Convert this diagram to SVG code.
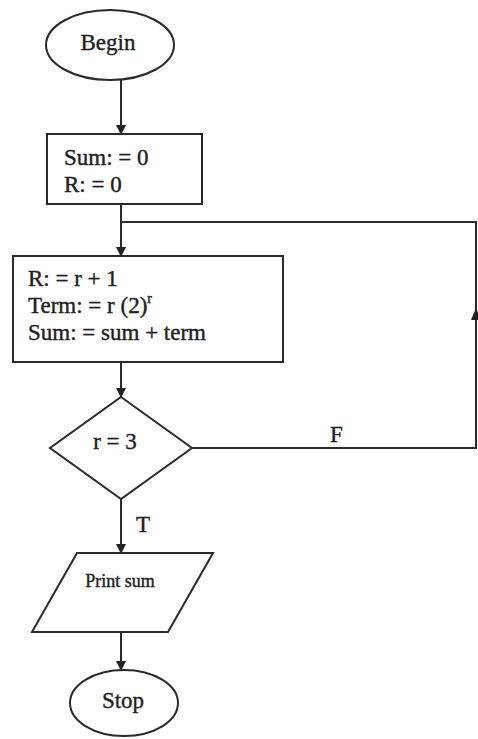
<svg xmlns="http://www.w3.org/2000/svg" width="478" height="739" viewBox="0 0 478 739">
<defs>
<marker id="ah" markerWidth="10" markerHeight="10" refX="9" refY="5" orient="auto" markerUnits="userSpaceOnUse">
<path d="M0,0 L10,5 L0,10 z" fill="#222"/>
</marker>
<style>
.s{fill:#fff;stroke:#2a2a2a;stroke-width:2}
.c{fill:none;stroke:#2a2a2a;stroke-width:2}
text{font-family:"Liberation Serif","Times New Roman",serif;fill:#1e1e1e;stroke:#1e1e1e;stroke-width:0.4}
.t{font-size:23px}
.m{text-anchor:middle}
</style>
</defs>
<rect width="478" height="739" fill="#fff"/>
<g id="connectors">
<line class="c" x1="121" y1="80" x2="121" y2="134" marker-end="url(#ah)"/>
<line class="c" x1="121" y1="204" x2="121" y2="256" marker-end="url(#ah)"/>
<polyline class="c" points="121,222 476,222 476,448 192,448"/>
<path d="M476,308 L471,320 L481,320 z" fill="#222"/>
<line class="c" x1="121" y1="362" x2="121" y2="397" marker-end="url(#ah)"/>
<line class="c" x1="121" y1="499" x2="121" y2="553" marker-end="url(#ah)"/>
<line class="c" x1="121" y1="632" x2="121" y2="670" marker-end="url(#ah)"/>
<text class="t" x="330" y="442">F</text>
<text class="t" x="136" y="532">T</text>
</g>
<g id="begin">
<ellipse class="s" cx="110" cy="45" rx="64" ry="35"/>
<text class="t m" x="108" y="50">Begin</text>
</g>
<g id="init">
<rect class="s" x="47" y="134" width="155" height="70"/>
<text class="t" x="64" y="165">Sum: = 0</text>
<text class="t" x="64" y="192">R: = 0</text>
</g>
<g id="process">
<rect class="s" x="13" y="256" width="270" height="106"/>
<text class="t" x="28" y="286">R: = r + 1</text>
<text class="t" x="28" y="313">Term: = r (2)<tspan font-size="14" dy="-10">r</tspan></text>
<text class="t" x="28" y="340">Sum: = sum + term</text>
</g>
<g id="decision">
<polygon class="s" points="121,397 192,448 121,499 50,448"/>
<text class="t m" x="115" y="449">r = 3</text>
</g>
<g id="print">
<polygon class="s" points="77,553 213,553 168,632 32,632"/>
<text class="m" x="120" y="587" font-size="18">Print sum</text>
</g>
<g id="stop">
<ellipse class="s" cx="124" cy="703" rx="54" ry="33"/>
<text class="t m" x="123" y="708">Stop</text>
</g>
</svg>
